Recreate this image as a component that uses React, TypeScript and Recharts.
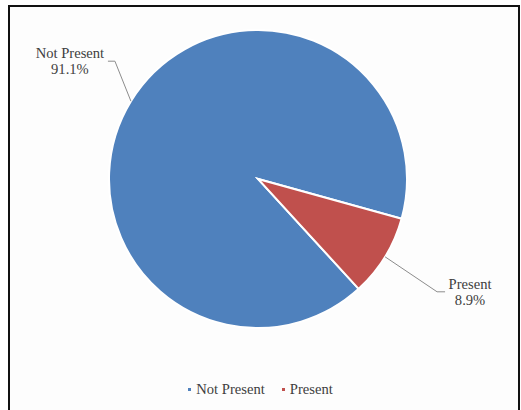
import { type CSSProperties } from 'react'
import { PieChart, Pie, Cell, Legend } from 'recharts'

const categories = ['Not Present', 'Present']
const shares = [91.1, 8.9]
const colors = ['#4F81BD', '#C0504D']

const data = categories.map((name, i) => ({ name, value: shares[i] }))

// leader elbow offsets from the slice edge, and text centre offset from the leader end
const labelLayout: Record<string, { ex: number; ey: number; tail: number; tx: number }> = {
  'Not Present': { ex: -16, ey: -40, tail: -7, tx: -38 },
  Present: { ex: 52, ey: 35, tail: 8, tx: 25 },
}

const RAD = Math.PI / 180
const textColor = '#404040'
const fontFamily = '"Liberation Serif", "Times New Roman", serif'
const fontSize = 14.6

const frameStyle: CSSProperties = {
  position: 'absolute',
  left: 8,
  top: 5,
  width: 508,
  height: 420,
  border: '2px solid #111',
  background: '#fdfdfd',
}

interface LabelProps {
  cx: number
  cy: number
  midAngle: number
  outerRadius: number
  name: string
  value: number
}

function SliceLabel({ cx, cy, midAngle, outerRadius, name, value }: LabelProps) {
  const lay = labelLayout[name]
  const sx = cx + outerRadius * Math.cos(-midAngle * RAD)
  const sy = cy + outerRadius * Math.sin(-midAngle * RAD)
  const mx = sx + lay.ex
  const my = sy + lay.ey
  const ex = mx + lay.tail
  const tx = ex + lay.tx
  return (
    <g>
      <polyline
        points={`${sx},${sy} ${mx},${my} ${ex},${my}`}
        fill="none"
        stroke="#8c8c8c"
        strokeWidth={1}
      />
      <text x={tx} y={my - 8} textAnchor="middle" dominantBaseline="central" fill={textColor} fontSize={fontSize} fontFamily={fontFamily}>
        {name}
      </text>
      <text x={tx} y={my + 8} textAnchor="middle" dominantBaseline="central" fill={textColor} fontSize={fontSize} fontFamily={fontFamily}>
        {value.toFixed(1)}%
      </text>
    </g>
  )
}

function LegendContent() {
  return (
    <div style={{ display: 'flex', justifyContent: 'center', gap: 17, fontFamily, fontSize, color: textColor }}>
      {categories.map((c, i) => (
        <span key={c} style={{ display: 'flex', alignItems: 'center' }}>
          <span style={{ width: 3, height: 3, background: colors[i], marginRight: 5 }} />
          {c}
        </span>
      ))}
    </div>
  )
}

export default function App() {
  return (
    <div style={{ position: 'absolute', left: 0, top: 0, width: 521, height: 410, overflow: 'hidden' }}>
      <div style={frameStyle} />
      <div style={{ position: 'absolute', left: 0, top: 0 }}>
        <PieChart width={521} height={410} margin={{ top: 0, right: 0, bottom: 0, left: 0 }}>
          <Pie
            data={data}
            dataKey="value"
            nameKey="name"
            cx={258}
            cy={179}
            outerRadius={149}
            startAngle={312.5}
            endAngle={-47.5}
            stroke="#ffffff"
            strokeWidth={2}
            labelLine={false}
            label={SliceLabel as any}
            isAnimationActive={false}
          >
            {data.map((d, i) => (
              <Cell key={d.name} fill={colors[i]} />
            ))}
          </Pie>
          <Legend
            content={<LegendContent />}
            wrapperStyle={{ top: 381, left: 0, width: 521, bottom: 'auto' }}
          />
        </PieChart>
      </div>
    </div>
  )
}
